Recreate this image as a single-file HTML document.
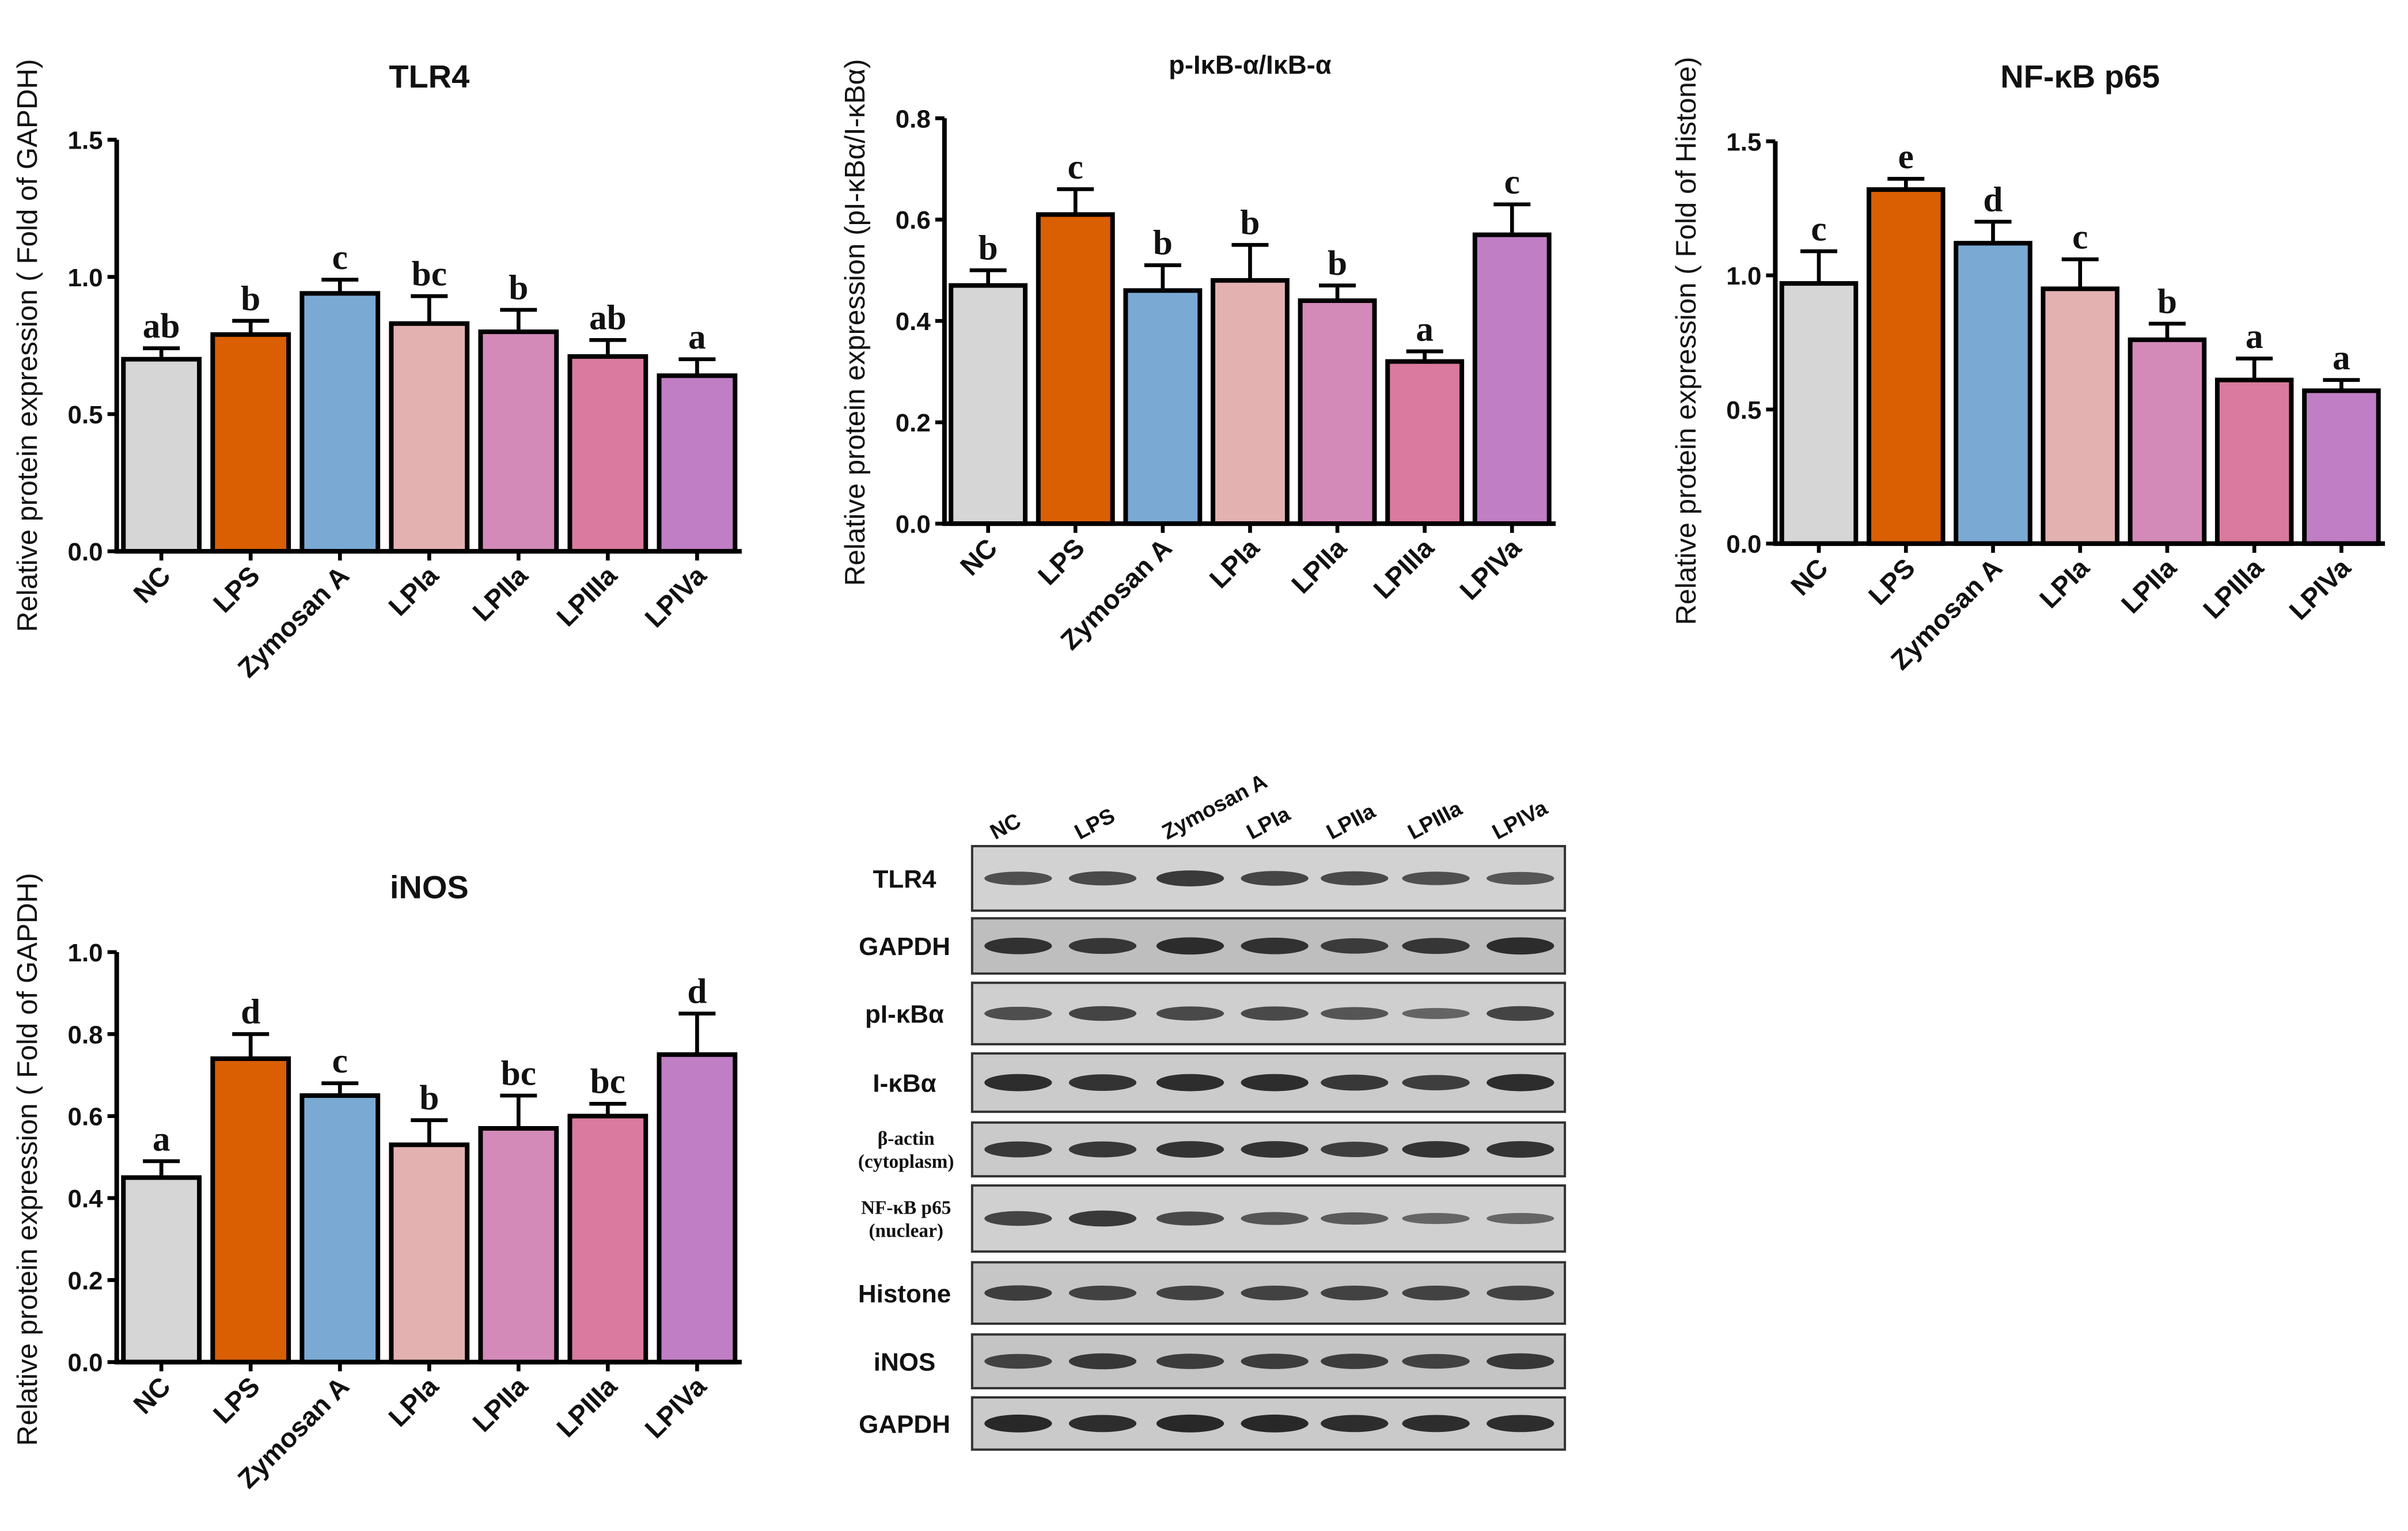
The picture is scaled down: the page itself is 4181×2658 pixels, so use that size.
<!DOCTYPE html>
<html><head><meta charset="utf-8"><style>
html,body{margin:0;padding:0;background:#fff;}
svg{display:block;}
text{font-family:"Liberation Sans",sans-serif;font-weight:bold;fill:#111;}
.ser{font-family:"Liberation Serif",serif;}
</style></head><body>
<svg id="fig" width="4181" height="2658" viewBox="0 0 1568 997" preserveAspectRatio="none" xmlns="http://www.w3.org/2000/svg"></svg>
<script>
const categories = ["NC","LPS","Zymosan A","LPIa","LPIIa","LPIIIa","LPIVa"];
const colors = ["#d6d6d6","#d95f02","#7aaad4","#e4b1b1","#d38ab8","#d97a9e","#c07ec4"];
const tlr4Values = [0.70,0.79,0.94,0.83,0.80,0.71,0.64];
const tlr4Errors = [0.04,0.05,0.05,0.10,0.08,0.06,0.06];
const tlr4Letters = ["ab","b","c","bc","b","ab","a"];
const tlr4Ticks = [0,0.5,1.0,1.5];
const ikbValues = [0.47,0.61,0.46,0.48,0.44,0.32,0.57];
const ikbErrors = [0.03,0.05,0.05,0.07,0.03,0.02,0.06];
const ikbLetters = ["b","c","b","b","b","a","c"];
const ikbTicks = [0,0.2,0.4,0.6,0.8];
const nfValues = [0.97,1.32,1.12,0.95,0.76,0.61,0.57];
const nfErrors = [0.12,0.04,0.08,0.11,0.06,0.08,0.04];
const nfLetters = ["c","e","d","c","b","a","a"];
const nfTicks = [0,0.5,1.0,1.5];
const inosValues = [0.45,0.74,0.65,0.53,0.57,0.60,0.75];
const inosErrors = [0.04,0.06,0.03,0.06,0.08,0.03,0.10];
const inosLetters = ["a","d","c","b","bc","bc","d"];
const inosTicks = [0,0.2,0.4,0.6,0.8,1.0];
const blotRows = ["TLR4","GAPDH","pI-κBα","I-κBα","β-actin (cytoplasm)","NF-κB p65 (nuclear)","Histone","iNOS","GAPDH"];
const blotIntensity = [
 [0.6,0.65,0.8,0.7,0.65,0.6,0.55],
 [0.85,0.8,0.9,0.85,0.75,0.8,0.9],
 [0.6,0.7,0.65,0.65,0.55,0.4,0.7],
 [0.9,0.85,0.9,0.9,0.8,0.75,0.9],
 [0.8,0.8,0.85,0.85,0.75,0.85,0.85],
 [0.7,0.8,0.65,0.55,0.5,0.4,0.4],
 [0.75,0.7,0.7,0.7,0.7,0.7,0.7],
 [0.7,0.8,0.75,0.75,0.75,0.7,0.8],
 [0.95,0.9,0.95,0.95,0.9,0.9,0.9]];
const NS="http://www.w3.org/2000/svg";
const svg=document.getElementById('fig');
function mk(tag,attrs,parent){const e=document.createElementNS(NS,tag);for(const k in attrs)e.setAttribute(k,attrs[k]);(parent||svg).appendChild(e);return e;}

function chart(cfg){
 const g=mk('g',{});
 
 
 const y=v=>cfg.y0-(v-0)/cfg.max*(cfg.y0-cfg.yTop);
 const step=(cfg.xEnd-cfg.ax)/7;
 const x=i=>cfg.ax+step*(i+0.5);
 const t=mk('text',{x:(cfg.ax+cfg.xEnd)/2,y:cfg.titleY,'text-anchor':'middle','font-size':cfg.titleSize||21},g);t.textContent=cfg.title;
 
 
 const yl=mk('text',{x:0,y:0,'text-anchor':'middle','font-size':cfg.ylSize||18.5,transform:`translate(${cfg.ax-52},${cfg.yLabelC}) rotate(-90)`},g);yl.textContent=cfg.ylabel;
 
 
 yl.style.fontWeight='normal';
 cfg.ticks.forEach(v=>{
  mk('line',{x1:cfg.ax-6,x2:cfg.ax,y1:y(v),y2:y(v),stroke:'#000','stroke-width':2.5},g);
  const tt=mk('text',{x:cfg.ax-9,y:y(v)+6,'text-anchor':'end','font-size':16.5},g);tt.textContent=v.toFixed(1);
  
  
 });
 cfg.values.forEach((v,i)=>{
  const bw=step*0.85;
  const top=y(v+cfg.errors[i]);
  mk('line',{x1:x(i),x2:x(i),y1:y(v),y2:top,stroke:'#000','stroke-width':2.5},g);
  mk('line',{x1:x(i)-12,x2:x(i)+12,y1:top,y2:top,stroke:'#000','stroke-width':2.5},g);
  const r=mk('rect',{x:x(i)-bw/2,y:y(v),width:bw,height:cfg.y0-y(v),fill:colors[i],stroke:'#000','stroke-width':3},g);
  
  
  const l=mk('text',{x:x(i),y:top-7,'text-anchor':'middle','font-size':23,'class':'ser'},g);l.textContent=cfg.letters[i];
  
  
  mk('line',{x1:x(i),x2:x(i),y1:cfg.y0,y2:cfg.y0+6,stroke:'#000','stroke-width':2.5},g);
  const c=mk('text',{x:0,y:0,'text-anchor':'end','font-size':17.5,transform:`translate(${x(i)+7},${cfg.y0+17}) rotate(-45)`},g);c.textContent=categories[i];
  
  
 });
 mk('line',{x1:cfg.ax,x2:cfg.ax,y1:cfg.yTop,y2:cfg.y0+1.5,stroke:'#000','stroke-width':3},g);
 mk('line',{x1:cfg.ax,x2:cfg.xEnd,y1:cfg.y0,y2:cfg.y0,stroke:'#000','stroke-width':3},g);
}
chart({name:'tlr4-chart',title:'TLR4',titleY:57,ax:76,xEnd:483,y0:359,yTop:91,max:1.5,ticks:tlr4Ticks,values:tlr4Values,errors:tlr4Errors,letters:tlr4Letters,ylabel:'Relative protein expression ( Fold of GAPDH)',yLabelC:225});
chart({name:'p-ikba-chart',title:'p-IκB-α/IκB-α',titleSize:17,titleY:48,ax:615,xEnd:1013,y0:341,yTop:77,max:0.8,ticks:ikbTicks,values:ikbValues,errors:ikbErrors,letters:ikbLetters,ylabel:'Relative protein expression (pI-κBα/I-κBα)',yLabelC:210});
chart({name:'nfkb-p65-chart',title:'NF-κB p65',titleY:57,ax:1156,xEnd:1553,y0:354,yTop:92,max:1.5,ticks:nfTicks,values:nfValues,errors:nfErrors,letters:nfLetters,ylabel:'Relative protein expression ( Fold of Histone)',yLabelC:222});
chart({name:'inos-chart',title:'iNOS',titleY:585,ax:76,xEnd:483,y0:887,yTop:620,max:1.0,ticks:inosTicks,values:inosValues,errors:inosErrors,letters:inosLetters,ylabel:'Relative protein expression ( Fold of GAPDH)',yLabelC:755});

// Western blot
const bg=mk('g',{});


const rowsY=[[551,593],[598,634],[640,680],[686,724],[731,766],[772,815],[822,862],[869,904],[910,944]];
const laneX=[663,718,775,830,882,935,990];
const bgFill=['#d2d2d2','#bebebe','#cfcfcf','#cbcbcb','#cacaca','#d0d0d0','#c6c6c6','#c4c4c4','#cacaca'];
categories.forEach((c,i)=>{
 const t=mk('text',{x:0,y:0,'font-size':14,transform:`translate(${laneX[i]-15},${547}) rotate(-28)`},bg);t.textContent=c;
 
 
});
blotRows.forEach((name,r)=>{
 const [y1,y2]=rowsY[r];
 const rr=mk('rect',{x:633,y:y1,width:386,height:y2-y1,fill:bgFill[r],stroke:'#333','stroke-width':1.5},bg);
 
 
 const cy=(y1+y2)/2;
 const parts=name.split(' (');
 if(parts.length>1){
  const a=mk('text',{x:590,y:cy-3,'text-anchor':'middle','font-size':12.5,'class':'ser'},bg);a.textContent=parts[0];
  const b=mk('text',{x:590,y:cy+12,'text-anchor':'middle','font-size':12.5,'class':'ser'},bg);b.textContent='('+parts[1];
  
  
 } else {
  const a=mk('text',{x:589,y:cy+6,'text-anchor':'middle','font-size':16.5},bg);a.textContent=name;
  
 }
 blotIntensity[r].forEach((v,i)=>{
  const e=mk('ellipse',{cx:laneX[i],cy:cy,rx:22,ry:2+4*v,fill:'#1a1a1a','fill-opacity':0.35+0.6*v},bg);
  
  
 });
});
</script>
</body></html>
